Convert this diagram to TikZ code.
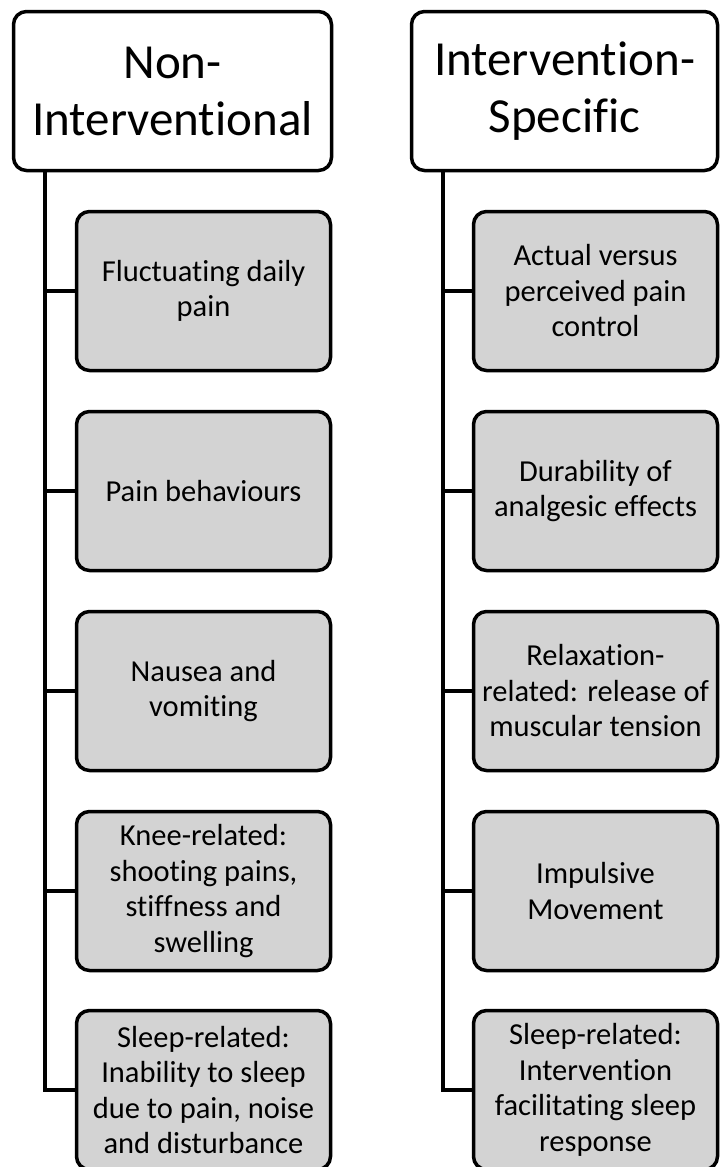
\documentclass[tikz,border=0pt]{standalone}
\usepackage{fontspec}
\setmainfont{Carlito}[Ligatures=CommonOff]
\usepackage{tikz}

\definecolor{itemgray}{RGB}{211,211,211}
\tikzset{
  head/.style={draw, line width=3.5pt, rounded corners=13pt, fill=white, align=center,
    minimum height=159pt, font=\fontsize{49}{57}\selectfont},
  item/.style={draw, line width=3.5pt, rounded corners=13pt, fill=itemgray, align=center,
    minimum height=159pt, font=\fontsize{30.5}{35.5}\selectfont},
  branch/.style={line width=3.5pt}
}

\begin{document}
\begin{tikzpicture}[x=1pt, y=-1pt]
  \useasboundingbox (0,0) rectangle (720,1167);

  \coordinate (ltrunk) at (45,170);
  \coordinate (rtrunk) at (443,170);

  \node[head, minimum width=318pt] (nonint) at (172.5,91) {Non-\\Interventional};
  \node[item, minimum width=254pt] (fluct) at (203.5,291) {Fluctuating daily\\pain};
  \node[item, minimum width=254pt] (behav) at (203.5,491) {Pain behaviours};
  \node[item, minimum width=254pt] (nausea) at (203.5,691) {Nausea and\\vomiting};
  \node[item, minimum width=254pt] (knee) at (203.5,891) {Knee-related:\\shooting pains,\\stiffness and\\swelling};
  \node[item, minimum width=254pt] (lsleep) at (203.5,1090) {Sleep-related:\\Inability to sleep\\due to pain, noise\\and disturbance};

  \node[head, minimum width=306pt] (intspec) at (564.5,91) {Intervention-\\Specific};
  \node[item, minimum width=244pt] (actual) at (595.5,291) {Actual versus\\perceived pain\\control};
  \node[item, minimum width=244pt] (durab) at (595.5,491) {Durability of\\analgesic effects};
  \node[item, minimum width=244pt] (relax) at (595.5,691) {Relaxation-\\related: release of\\muscular tension};
  \node[item, minimum width=244pt] (impuls) at (595.5,891) {Impulsive\\Movement};
  \node[item, minimum width=244pt] (rsleep) at (595.5,1090) {Sleep-related:\\Intervention\\facilitating sleep\\response};

  \draw[branch] (ltrunk) -- (ltrunk |- lsleep.west) -- (lsleep.west);
  \draw[branch] (ltrunk |- fluct.west) -- (fluct.west);
  \draw[branch] (ltrunk |- behav.west) -- (behav.west);
  \draw[branch] (ltrunk |- nausea.west) -- (nausea.west);
  \draw[branch] (ltrunk |- knee.west) -- (knee.west);

  \draw[branch] (rtrunk) -- (rtrunk |- rsleep.west) -- (rsleep.west);
  \draw[branch] (rtrunk |- actual.west) -- (actual.west);
  \draw[branch] (rtrunk |- durab.west) -- (durab.west);
  \draw[branch] (rtrunk |- relax.west) -- (relax.west);
  \draw[branch] (rtrunk |- impuls.west) -- (impuls.west);
\end{tikzpicture}
\end{document}
